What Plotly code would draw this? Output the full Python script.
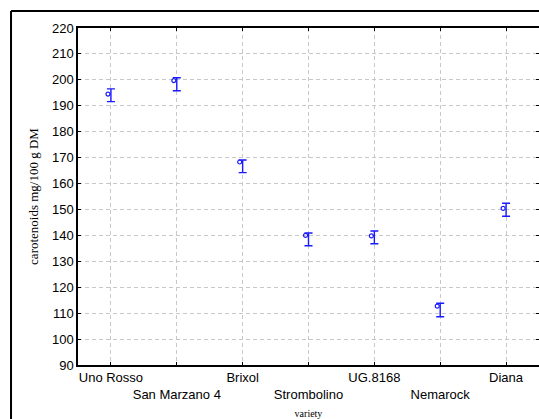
import plotly.graph_objects as go

varieties = ["Uno Rosso", "San Marzano 4", "Brixol", "Strombolino", "UG.8168", "Nemarock", "Diana"]
means = [194.5, 199.7, 168.3, 140.0, 139.8, 112.7, 150.4]
err_plus = [2.0, 1.1, 0.8, 0.9, 1.9, 1.1, 2.0]
err_minus = [2.9, 3.9, 4.1, 4.0, 3.0, 4.1, 3.0]
y_ticks = list(range(90, 221, 10))

idx = list(range(len(varieties)))
ticktext = [v if i % 2 == 0 else "<br>" + v for i, v in enumerate(varieties)]

blue = "#1a1aff"
fig = go.Figure()
fig.add_trace(go.Scatter(
    x=idx, y=means, mode="markers",
    marker=dict(size=1, color="rgba(0,0,0,0)"),
    error_y=dict(type="data", symmetric=False, array=err_plus, arrayminus=err_minus,
                 color=blue, thickness=1.4, width=4),
    showlegend=False, hoverinfo="skip"))
fig.add_trace(go.Scatter(
    x=[i - 0.045 for i in idx], y=means, mode="markers",
    marker=dict(symbol="circle-open", size=4, color=blue, line=dict(width=1.2, color=blue)),
    showlegend=False))

axis_common = dict(showline=True, linecolor="black", linewidth=1.5, mirror="ticks",
                   ticks="inside", ticklen=3, tickcolor="black",
                   showgrid=True, gridcolor="#c8c8c8", griddash="4px,3px", gridwidth=1,
                   zeroline=False, automargin=False, tickangle=0,
                   tickfont=dict(family="Arial, Liberation Sans, sans-serif", size=13, color="black"))

fig.update_xaxes(range=[-0.5, 6.5], tickvals=idx, ticktext=ticktext,
                 title=dict(text="variety", standoff=9,
                            font=dict(family="Times New Roman, Liberation Serif, serif", size=10, color="black")),
                 **axis_common)
fig.update_yaxes(range=[90, 220], tickvals=y_ticks,
                 title=dict(text="carotenoids mg/100 g DM", standoff=10,
                            font=dict(family="Times New Roman, Liberation Serif, serif", size=13, color="black")),
                 **axis_common)

fig.update_layout(
    width=539, height=419,
    margin=dict(l=78, r=0, t=28, b=54, autoexpand=False),
    plot_bgcolor="white", paper_bgcolor="white",
    shapes=[
        dict(type="line", xref="paper", yref="paper", x0=-0.1453, x1=1.01, y0=1.0504, y1=1.0504,
             line=dict(color="black", width=2)),
        dict(type="line", xref="paper", yref="paper", x0=-0.1453, x1=-0.1453, y0=1.0504, y1=-0.17,
             line=dict(color="black", width=2)),
    ],
)

fig.write_html("out.html", config={"displayModeBar": False})

with open("out.html", "r", encoding="utf-8") as f:
    html = f.read()
html = html.replace("<body>", '<body style="margin:0;padding:0;overflow:hidden">', 1)
with open("out.html", "w", encoding="utf-8") as f:
    f.write(html)
